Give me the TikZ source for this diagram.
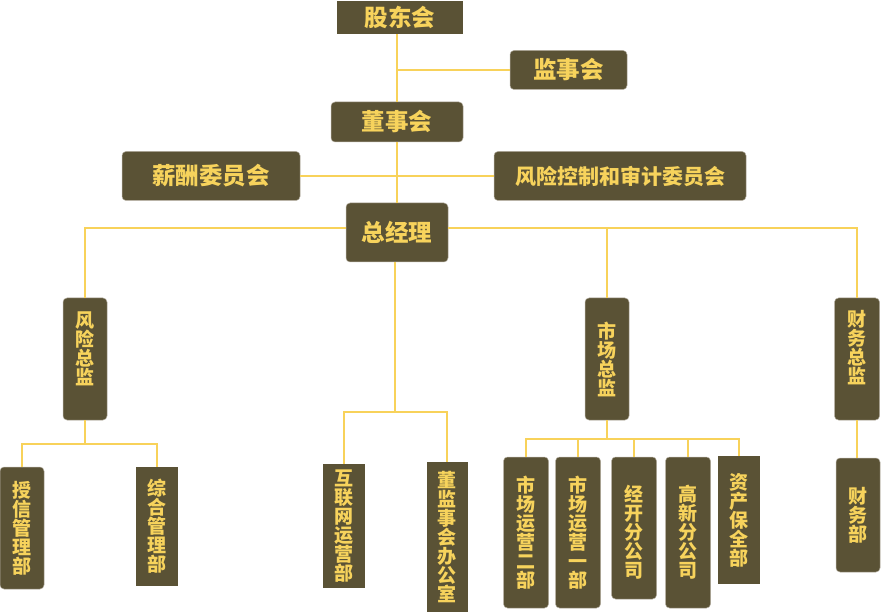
\documentclass[tikz,border=0pt]{standalone}
\usepackage{fontspec}
\newfontfamily\cjk{Noto Sans CJK SC}
\definecolor{cfons}{RGB}{90,82,53}
\definecolor{clletra}{RGB}{247,211,92}
\definecolor{clinia}{RGB}{248,210,90}
\definecolor{cvora}{RGB}{178,172,158}
\tikzset{
  caixa/.style={fill=cfons, draw=cvora, line width=0.5pt, text=clletra, inner sep=0pt, rounded corners=4pt},
  mida/.style 2 args={minimum width=#1pt, minimum height=#2pt},
  horit/.style={caixa, font=\cjk\bfseries\fontsize{23.5}{23.5}\selectfont},
  vert/.style={caixa, font=\cjk\bfseries\fontsize{19}{19}\selectfont, align=center},
  quadre/.style={sharp corners, draw=none},
  enllac/.style={draw=clinia, line width=1.3pt},
}
\begin{document}
\begin{tikzpicture}[x=1pt,y=-1pt]
  \useasboundingbox (0,0) rectangle (881,612);
  % Organs de govern
  \node[horit, quadre, mida={126}{33}] (gd) at (400,17.5) {股东会};
  \node[horit, mida={117}{39}] (js) at (568.5,70) {监事会};
  \node[horit, mida={132}{40}] (ds) at (397,122) {董事会};
  \node[horit, mida={178}{49}] (xc) at (211,176) {薪酬委员会};
  \node[horit, mida={252}{49}, font=\cjk\bfseries\fontsize{21}{21}\selectfont] (fk) at (620,176) {风险控制和审计委员会};
  \node[horit, mida={102}{59}] (zjl) at (397,232.5) {总经理};
  % Directors
  \node[vert, mida={44}{122}, label={[vert, draw=none, fill=none, yshift=10.5pt]center:{风\\险\\总\\监}}] (fx) at (85,359) {};
  \node[vert, mida={44}{122}] (sc) at (607,359) {市\\场\\总\\监};
  \node[vert, mida={45}{122}, label={[vert, draw=none, fill=none, yshift=11pt]center:{财\\务\\总\\监}}] (cw) at (857,359) {};
  % Departaments
  \node[vert, mida={44}{122}] (sx) at (22,528) {授\\信\\管\\理\\部};
  \node[vert, quadre, mida={42}{119}] (zh) at (157,526.5) {综\\合\\管\\理\\部};
  \node[vert, quadre, mida={42}{124}] (hl) at (344,526) {互\\联\\网\\运\\营\\部};
  \node[vert, quadre, mida={41}{150}] (dj) at (447,537) {董\\监\\事\\会\\办\\公\\室};
  \node[vert, mida={45}{151}] (m2) at (526,532.5) {市\\场\\运\\营\\二\\部};
  \node[vert, mida={45}{151}] (m1) at (578,532.5) {市\\场\\运\\营\\一\\部};
  \node[vert, mida={45}{142}, label={[vert, draw=none, fill=none, yshift=-4.5pt]center:{经\\开\\分\\公\\司}}] (jk) at (634,528) {};
  \node[vert, mida={45}{151}] (gx) at (688,532.5) {高\\新\\分\\公\\司};
  \node[vert, quadre, mida={42}{128}] (zc) at (739,520) {资\\产\\保\\全\\部};
  \node[vert, mida={44}{114}] (cwb) at (858,515) {财\\务\\部};
  % Punts de branca
  \coordinate (zl) at (346,228);
  \coordinate (zr) at (448,228);
  \coordinate (ob) at (395,412);
  \coordinate (fb) at (85,444);
  \coordinate (sb) at (607,439);
  % Linies
  \draw[enllac] (ds.north) -- (ds.north |- gd.south);
  \draw[enllac] (js.west) -- (js.west -| ds);
  \draw[enllac] (ds.south) -- (zjl.north);
  \draw[enllac] (xc.east) -- (fk.west);
  \draw[enllac] (zl) -| (fx.north);
  \draw[enllac] (zr) -| (cw.north);
  \draw[enllac] (sc.north) -- (sc.north |- zr);
  \draw[enllac] (zjl.south -| ob) -- (ob);
  \draw[enllac] (hl.north) |- (ob) -| (dj.north);
  \draw[enllac] (fx.south) -- (fb);
  \draw[enllac] (sx.north) |- (fb) -| (zh.north);
  \draw[enllac] (sc.south) -- (sb);
  \draw[enllac] (m2.north) |- (sb) -| (zc.north);
  \foreach \d in {m1,jk,gx}
    \draw[enllac] (\d.north) -- (\d.north |- sb);
  \draw[enllac] (cw.south) -- (cw.south |- cwb.north);
\end{tikzpicture}
\end{document}
